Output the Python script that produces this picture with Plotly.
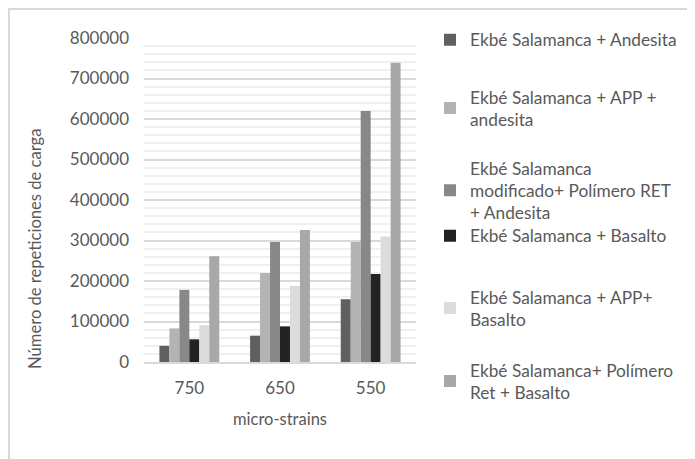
import plotly.graph_objects as go

categories = ["750", "650", "550"]
series_names = [
    "Ekbé Salamanca + Andesita",
    "Ekbé Salamanca + APP +<br>andesita",
    "Ekbé Salamanca<br>modificado+ Polímero RET<br>+ Andesita",
    "Ekbé Salamanca + Basalto",
    "Ekbé Salamanca + APP+<br>Basalto",
    "Ekbé Salamanca+ Polímero<br>Ret + Basalto",
]
andesita = [40000, 65000, 155000]
app_andesita = [83000, 220000, 296000]
ret_andesita = [178000, 296000, 620000]
basalto = [56000, 88000, 217000]
app_basalto = [91000, 188000, 310000]
ret_basalto = [261000, 326000, 739000]
series_values = [andesita, app_andesita, ret_andesita, basalto, app_basalto, ret_basalto]
colors = ["#606060", "#b3b3b3", "#888888", "#222222", "#dcdcdc", "#a8a8a8"]
tick_vals = [0, 100000, 200000, 300000, 400000, 500000, 600000, 700000, 800000]

OFF = 8  # default page body margin
W, H = 695 - OFF, 459 - OFF
L, T = 144 - OFF, 38 - OFF
R = W - (416 - OFF)
B = H - (362 - OFF)
pw, ph = W - L - R, H - T - B

def px_x(x):
    return (x - OFF - L) / pw

def px_y(y):
    return (H - B - (y - OFF)) / ph

FONT = "Lato"
TXT = "#595959"

fig = go.Figure()
legend_tops = [22, 79, 150, 218, 279, 352]
layout_legends = {}
for i, (name, vals, col) in enumerate(zip(series_names, series_values, colors)):
    key = "legend" if i == 0 else f"legend{i+1}"
    fig.add_trace(go.Bar(
        x=categories, y=vals, name=name, marker=dict(color=col, line=dict(width=0)),
        legend=key, showlegend=True,
    ))
    layout_legends[key] = dict(
        x=px_x(430), y=px_y(legend_tops[i]), xanchor="left", yanchor="top",
        bgcolor="rgba(0,0,0,0)", font=dict(family=FONT, size=17.3, color=TXT),
        itemwidth=30, tracegroupgap=0, visible=True,
    )

fig.update_layout(
    width=W, height=H,
    margin=dict(l=L, r=R, t=T, b=B, autoexpand=False),
    paper_bgcolor="white", plot_bgcolor="white",
    barmode="group", bargap=0.34, bargroupgap=0,
    showlegend=True,
    font=dict(family=FONT, size=17, color=TXT),
    **layout_legends,
)
fig.update_xaxes(
    showline=True, linecolor="#d9d9d9", linewidth=1.5,
    ticks="", ticklabelstandoff=10, tickfont=dict(family=FONT, size=17, color=TXT),
    title=dict(text="micro-strains", font=dict(family=FONT, size=16.5, color=TXT), standoff=16),
)
fig.update_yaxes(
    range=[0, 800000], tickvals=tick_vals, ticktext=[str(v) for v in tick_vals],
    showgrid=True, gridcolor="#d9d9d9", gridwidth=1.5,
    minor=dict(dtick=20000, showgrid=True, gridcolor="#f0f0f0", gridwidth=1.5),
    zeroline=False, ticks="", ticklen=0, ticklabelstandoff=14,
    tickfont=dict(family=FONT, size=17, color=TXT),
)
fig.add_annotation(
    text="Número de repeticiones de carga", textangle=-90,
    xref="paper", yref="paper", x=px_x(35), y=px_y(249),
    xanchor="center", yanchor="middle", showarrow=False,
    font=dict(family=FONT, size=16.6, color=TXT),
)
fig.add_shape(
    type="rect", xref="paper", yref="paper",
    x0=px_x(9), x1=px_x(720), y0=px_y(480), y1=px_y(9),
    line=dict(color="#d9d9d9", width=2), fillcolor="rgba(0,0,0,0)", layer="below",
)
fig.write_html("out.html")
